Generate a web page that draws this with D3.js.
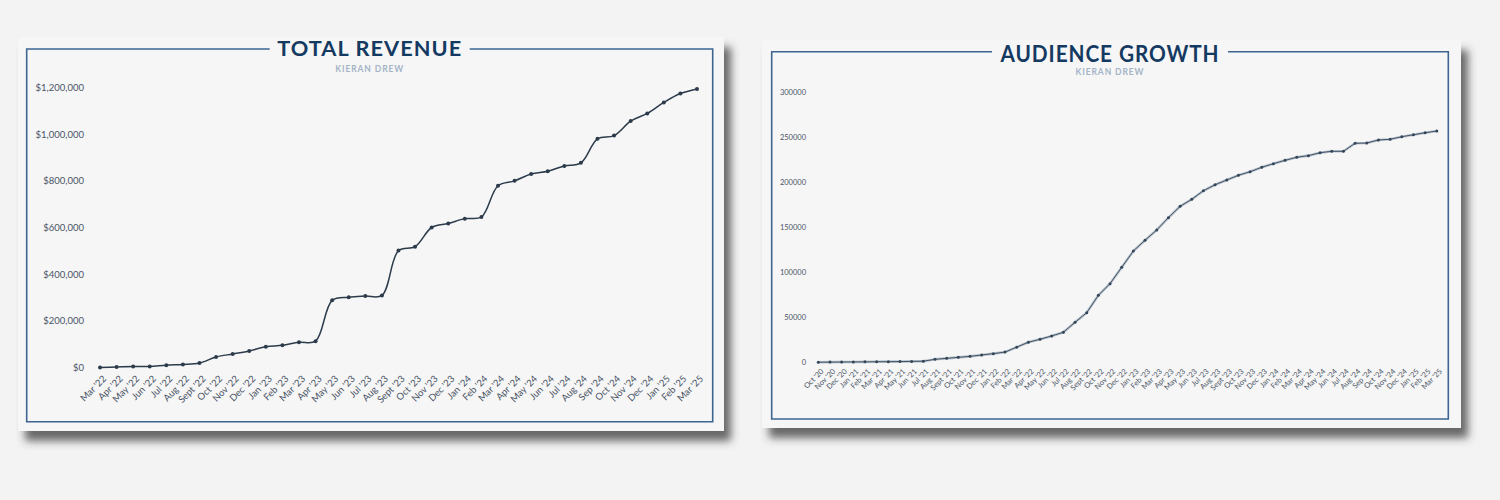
<!DOCTYPE html>
<html><head><meta charset="utf-8">
<script src="https://cdn.jsdelivr.net/npm/d3@7"></script>
<style>
html,body{margin:0;padding:0;background:#f3f3f3;}
svg{display:block;}
</style></head>
<body>
<script>
// ---------- DATA ----------
const revenueMonths = ["Mar '22","Apr '22","May '22","Jun '22","Jul '22","Aug '22","Sept '22","Oct '22","Nov '22","Dec '22",
 "Jan '23","Feb '23","Mar '23","Apr '23","May '23","Jun '23","Jul '23","Aug '23","Sept '23","Oct '23","Nov '23","Dec '23",
 "Jan '24","Feb '24","Mar '24","Apr '24","May '24","Jun '24","Jul '24","Aug '24","Sep '24","Oct '24","Nov '24","Dec '24",
 "Jan '25","Feb '25","Mar '25"];
const revenueValues = [0,2000,4000,4500,10000,13000,19000,45000,58000,71000,
 89000,95000,108000,113000,288000,301000,306000,309000,501000,518000,600000,617000,
 638000,645000,779000,800000,829000,841000,864000,877000,980000,994000,1056000,1089000,
 1136000,1174000,1194000];
const revenueTicks = [0,200000,400000,600000,800000,1000000,1200000];

const audienceMonths = ["Oct '20","Nov '20","Dec '20","Jan '21","Feb '21","Mar '21","Apr '21","May '21","Jun '21","Jul '21",
 "Aug '21","Sept '21","Oct '21","Nov '21","Dec '21","Jan '22","Feb '22","Mar '22","Apr '22","May '22","Jun '22","Jul '22",
 "Aug '22","Sept '22","Oct '22","Nov '22","Dec '22","Jan '23","Feb '23","Mar '23","Apr '23","May '23","Jun '23","Jul '23",
 "Aug '23","Sept '23","Oct '23","Nov '23","Dec '23","Jan '24","Feb '24","Mar '24","Apr '24","May '24","Jun '24","Jul '24",
 "Aug '24","Sep '24","Oct '24","Nov '24","Dec '24","Jan '25","Feb '25","Mar '25"];
const audienceValues = [100,200,300,400,500,600,700,800,1000,1200,
 3300,4400,5500,6600,8100,9600,11300,16800,22200,25500,29200,33300,
 44300,55000,74300,87200,105300,123400,135300,146700,160300,172900,180700,190200,
 196800,202100,207300,211300,216200,220200,223900,227300,229100,232400,233900,233900,
 242800,243100,246500,247200,250100,252300,254500,256400];
const audienceTicks = [0,50000,100000,150000,200000,250000,300000];

// ---------- LAYOUT ----------
const W = 1500, H = 500;
const svg = d3.select("body").append("svg").attr("width", W).attr("height", H);
svg.append("rect").attr("width", W).attr("height", H).attr("fill", "#f3f3f3");

const defs = svg.append("defs");
const f = defs.append("filter").attr("id","shadow").attr("x","-5%").attr("y","-5%").attr("width","115%").attr("height","120%");
f.append("feDropShadow").attr("dx",7).attr("dy",10).attr("stdDeviation",4)
 .attr("flood-color","#3a3a3a").attr("flood-opacity",0.75);

const FRAME = "#3c6691", TITLE = "#143a62", SUB = "#a4b3c6", AXIS = "#4a5566", LINE = "#2c3b4b";

function card(cfg) {
  const g = svg.append("g");
  g.append("rect").attr("x", cfg.card[0]).attr("y", cfg.card[1])
    .attr("width", cfg.card[2]-cfg.card[0]).attr("height", cfg.card[3]-cfg.card[1])
    .attr("fill", "#f6f6f6").attr("filter","url(#shadow)");
  const [fx0, fy0, fx1, fy1] = cfg.frame;
  const cx = (fx0+fx1)/2;
  g.append("path").attr("fill","none").attr("stroke",FRAME).attr("stroke-width",1.6)
    .attr("d", `M${cx-cfg.gap},${fy0}H${fx0}V${fy1}H${fx1}V${fy0}H${cx+cfg.gap}`);
  g.append("text").attr("x",cx).attr("y",cfg.titleY).attr("text-anchor","middle")
    .attr("font-family","Lato, sans-serif").attr("font-weight",700).attr("font-size",cfg.titleSize)
    .attr("letter-spacing",1).attr("fill",TITLE).attr("textLength",cfg.titleW).attr("lengthAdjust","spacingAndGlyphs")
    .text(cfg.title);
  g.append("text").attr("x",cx).attr("y",cfg.subY).attr("text-anchor","middle")
    .attr("font-family","Lato, sans-serif").attr("font-weight",700).attr("font-size",cfg.subSize)
    .attr("letter-spacing",0.9).attr("fill",SUB).text("KIERAN DREW");

  const x = d3.scalePoint().domain(cfg.months).range(cfg.xr);
  const y = d3.scaleLinear().domain([0, cfg.ymax]).range(cfg.yr);

  const ya = g.append("g").attr("transform",`translate(${cfg.yLabelX},0)`)
    .call(d3.axisLeft(y).tickValues(cfg.ticks).tickSize(0).tickPadding(0).tickFormat(cfg.fmt));
  ya.select(".domain").remove();
  ya.selectAll("text").attr("font-family","Lato, sans-serif").attr("font-size",cfg.yFont).attr("fill",AXIS);

  const xa = g.append("g").attr("transform",`translate(0,${cfg.xLabelY})`)
    .call(d3.axisBottom(x).tickSize(0).tickPadding(0));
  xa.select(".domain").remove();
  xa.selectAll("text").attr("font-family","Lato, sans-serif").attr("font-size",cfg.xFont).attr("fill",AXIS)
    .attr("text-anchor","end").attr("dy","0.35em").attr("dx",0)
    .attr("transform",`translate(${cfg.xLabelDx},0) rotate(-45)`);

  const line = d3.line().x((d,i)=>x(cfg.months[i])).y(d=>y(d)).curve(cfg.curve);
  if (cfg.halo) {
    g.append("path").datum(cfg.values).attr("fill","none").attr("stroke","#b9c2cc")
      .attr("stroke-width",2.6).attr("d",line);
  }
  g.append("path").datum(cfg.values).attr("fill","none").attr("stroke",cfg.lineColor)
    .attr("stroke-width",cfg.lw).attr("d",line);
  g.selectAll("circle.pt").data(cfg.values).join("circle").attr("class","pt")
    .attr("cx",(d,i)=>x(cfg.months[i])).attr("cy",d=>y(d)).attr("r",cfg.r).attr("fill",cfg.lineColor);
}

card({
  card:[18,37,724,431], frame:[26.7,49,712.7,421.7], gap:100,
  title:"TOTAL REVENUE", titleY:56, titleSize:21, titleW:185, subY:72, subSize:8.5,
  months:revenueMonths, values:revenueValues, ticks:revenueTicks, ymax:1200000,
  xr:[100,697], yr:[367.5,87.5], yLabelX:84, yFont:9.5, fmt:d=>"$"+d3.format(",")(d),
  xLabelY:377, xLabelDx:4, xFont:9.5, curve:d3.curveCatmullRom.alpha(0.5),
  lineColor:LINE, lw:1.5, r:2, halo:false
});

card({
  card:[762,40,1461,428], frame:[771.7,51.7,1448.3,419], gap:118,
  title:"AUDIENCE GROWTH", titleY:62, titleSize:23, titleW:219, subY:74.5, subSize:8.5,
  months:audienceMonths, values:audienceValues, ticks:audienceTicks, ymax:300000,
  xr:[818.3,1436.8], yr:[362.3,91.7], yLabelX:806, yFont:7.5, fmt:d3.format("d"),
  xLabelY:370, xLabelDx:3.5, xFont:7.5, curve:d3.curveLinear,
  lineColor:"#34475a", lw:0.9, r:1.5, halo:true
});
</script>
</body></html>
